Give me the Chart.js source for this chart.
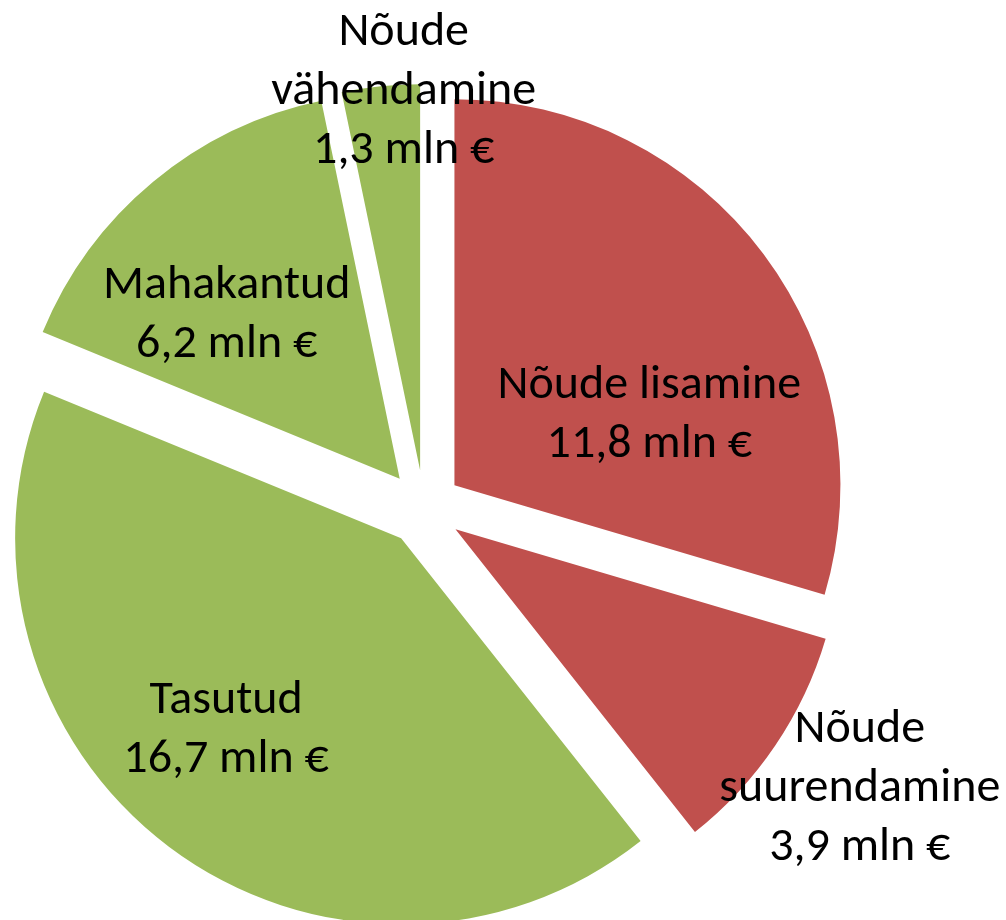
<!DOCTYPE html>
<html>
<head>
<meta charset="utf-8">
<script src="https://cdn.jsdelivr.net/npm/chart.js@4.4.1/dist/chart.umd.min.js"></script>
<style>
  html, body { margin: 0; padding: 0; background: #fff; }
  #wrap { width: 1006px; height: 920px; }
</style>
</head>
<body>
<div id="wrap"><canvas id="myChart" width="1006" height="920"></canvas></div>
<script>
// andmed
const labels = ['Nõude lisamine', 'Nõude suurendamine', 'Tasutud', 'Mahakantud', 'Nõude vähendamine'];
const values = [11.8, 3.9, 16.7, 6.2, 1.3];
const valueTexts = ['11,8 mln €', '3,9 mln €', '16,7 mln €', '6,2 mln €', '1,3 mln €'];
const labelLines = [
  ['Nõude lisamine'],
  ['Nõude', 'suurendamine'],
  ['Tasutud'],
  ['Mahakantud'],
  ['Nõude', 'vähendamine']
];
const colors = ['#C0504D', '#C0504D', '#9BBB59', '#9BBB59', '#9BBB59'];

// how far every slice is pulled out (px)
const explode = 38;
// where each label sits: fraction of radius from slice tip, angle tweak (deg)
const labelPlace = [[0.54, 16], [1.24, -1.7], [0.665, 6], [0.623, -6.3], [0.99, 3.4]];

// chart.js offset also grows the radius of small slices, so move them by hand
const explodeSlices = {
  id: 'explodeSlices',
  afterDatasetUpdate(chart, args) {
    args.meta.data.forEach(function (arc) {
      const half = (arc.startAngle + arc.endAngle) / 2;
      arc.x += Math.cos(half) * explode;
      arc.y += Math.sin(half) * explode;
    });
  }
};

const sliceLabels = {
  id: 'sliceLabels',
  afterDatasetsDraw(chart) {
    const ctx = chart.ctx;
    const arcs = chart.getDatasetMeta(0).data;
    ctx.save();
    ctx.fillStyle = '#000';
    ctx.font = '48px Carlito, Calibri, Lato, sans-serif';
    ctx.textAlign = 'center';
    ctx.textBaseline = 'middle';
    arcs.forEach(function (arc, i) {
      const half = (arc.startAngle + arc.endAngle) / 2;
      const a = half + labelPlace[i][1] * Math.PI / 180;
      const r = labelPlace[i][0] * arc.outerRadius;
      const cx = arc.x + Math.cos(a) * r;
      const cy = arc.y + Math.sin(a) * r + 4;
      const lines = labelLines[i].concat([valueTexts[i]]);
      const lh = 59;
      const top = cy - (lines.length - 1) * lh / 2;
      lines.forEach(function (t, k) {
        ctx.fillText(t, cx, top + k * lh);
      });
    });
    ctx.restore();
  }
};

new Chart(document.getElementById('myChart'), {
  type: 'pie',
  data: {
    labels: labels,
    datasets: [{
      data: values,
      backgroundColor: colors,
      borderWidth: 0,
      clip: false
    }]
  },
  options: {
    responsive: false,
    animation: false,
    radius: 386,
    layout: { padding: { left: 0, right: 158, top: 96, bottom: 0 } },
    plugins: {
      legend: { display: false },
      tooltip: { enabled: false }
    }
  },
  plugins: [explodeSlices, sliceLabels]
});
</script>
</body>
</html>
